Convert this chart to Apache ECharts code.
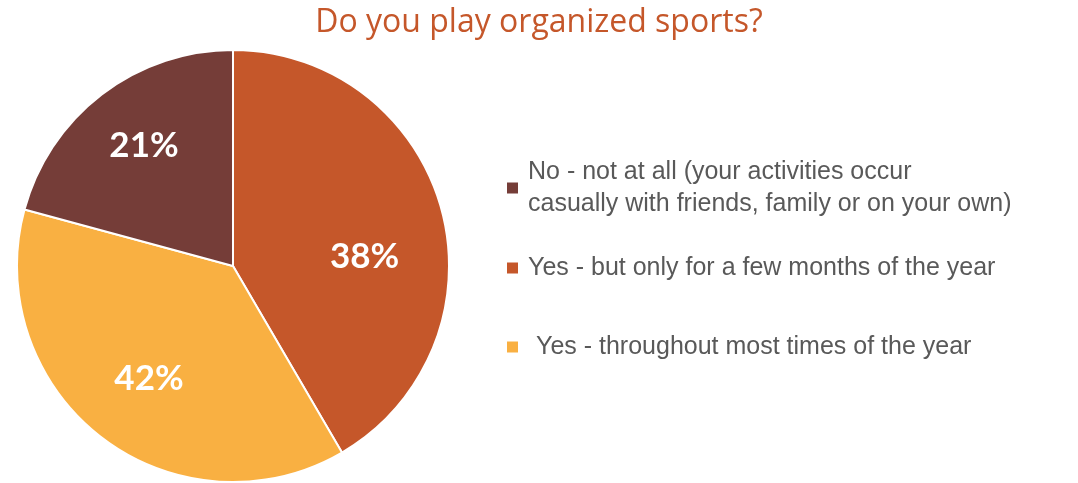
<!DOCTYPE html>
<html>
<head>
<meta charset="utf-8">
<script src="https://cdn.jsdelivr.net/npm/echarts@6/dist/echarts.min.js"></script>
<style>html,body{margin:0;padding:0;background:#fff}#c{width:1078px;height:483px}</style>
</head>
<body>
<div id="c"></div>
<script>
var chartTitle = 'Do you play organized sports?';
var categories = [
  'Yes - but only for a few months of the year',
  'Yes - throughout most times of the year',
  'No - not at all (your activities occur\ncasually with friends, family or on your own)'
];
var sliceValues = [42, 38, 21];
var sliceLabels = ['38%', '42%', '21%'];
var colors = ['#C5572A', '#F9B042', '#753D38'];

var labelOffsets = [[-5, 28], [2, 0], [-3, -8]];
var data = categories.map(function (c, i) {
  return { name: c, value: sliceValues[i], itemStyle: { color: colors[i] } };
});
var labelData = categories.map(function (c, i) {
  return { name: c, value: sliceValues[i], label: { formatter: sliceLabels[i], offset: labelOffsets[i] } };
});

var chart = echarts.init(document.getElementById('c'), null, { renderer: 'canvas' });
var legendBase = {
  orient: 'vertical', left: 500, icon: 'rect', itemWidth: 13, itemHeight: 13,
  selectedMode: false,
  textStyle: { fontFamily: 'Liberation Sans, Arial', fontSize: 25, color: '#595959', lineHeight: 32, padding: [0, 0, 0, 4] }
};
chart.setOption({
  animation: false,
  title: {
    text: chartTitle, left: 'center', top: 2,
    textStyle: { fontFamily: 'Open Sans', fontWeight: 'normal', fontSize: 32, color: '#C5572A' }
  },
  legend: [
    Object.assign({}, legendBase, { top: 151, data: [categories[2]] }),
    Object.assign({}, legendBase, { top: 247, data: [categories[0]] }),
    Object.assign({}, legendBase, { top: 326, data: [categories[1]],
      textStyle: Object.assign({}, legendBase.textStyle, { padding: [0, 0, 0, 12] }) })
  ],
  series: [
    {
      type: 'pie', center: [233, 266], radius: [0, 216], startAngle: 90, clockwise: true,
      data: data, label: { show: false }, labelLine: { show: false },
      itemStyle: { borderColor: '#ffffff', borderWidth: 2 }
    },
    {
      type: 'pie', center: [233, 266], radius: [0, 277], startAngle: 90, clockwise: true,
      silent: true, data: labelData, itemStyle: { color: 'rgba(0,0,0,0)' },
      label: { show: true, position: 'inside', color: '#ffffff', fontFamily: 'Lato', fontWeight: 'bold', fontSize: 35 },
      labelLine: { show: false }, emphasis: { disabled: true }
    }
  ]
});
</script>
</body>
</html>
